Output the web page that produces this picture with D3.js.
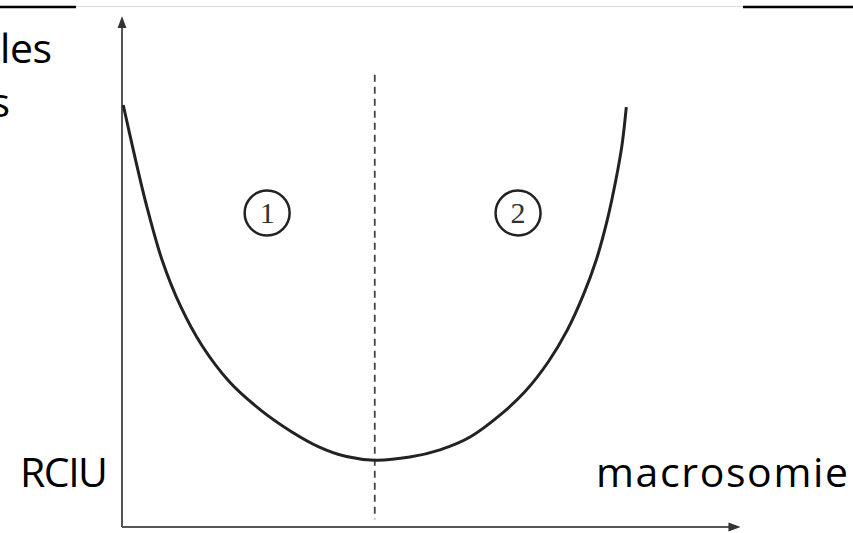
<!DOCTYPE html>
<html>
<head>
<style>
    body { margin: 0; background: #fff; }
    .label { font-family: "Open Sans", sans-serif; font-size: 41px; fill: #000; }
    .num { font-family: "Liberation Serif", serif; font-size: 30px; fill: #333; }
</style>
<script src="https://d3js.org/d3.v7.min.js"></script>
</head>
<body>

<svg width="853" height="533"></svg>

<script>
    // U-shaped curve (x and y in 0-100 units)
    var curveX = [0.2, 2.0, 4.0, 6.5, 9.5, 13.0, 17.5, 22.5, 27.5, 32.0, 36.5, 41.1,
                  46.8, 51.7, 56.6, 61.5, 65.5, 69.3, 72.4, 75.0, 77.1, 78.9, 80.3, 81.3, 82.0];
    var curveY = [82.1, 72.5, 62.5, 52.0, 43.0, 35.3, 28.2, 22.8, 18.6, 15.6, 13.7, 13.0,
                  13.6, 15.0, 17.5, 21.8, 26.3, 32.1, 38.3, 45.1, 51.9, 59.7, 67.5, 74.3, 81.7];
    var splitX = 41.1;
    var zones = ["1", "2"];
    var zoneX = [23.6, 64.4];
    var zoneY = 61.1;

    var svg = d3.select('svg');

    var xScale = d3.scaleLinear().domain([0, 100]).range([122, 737]);
    var yScale = d3.scaleLinear().domain([0, 100]).range([527, 13]);

    // top border fragments of the slide
    svg.append('line').attr('x1', 0).attr('x2', 76).attr('y1', 7).attr('y2', 7)
        .attr('stroke', '#000').attr('stroke-width', 2.5);
    svg.append('line').attr('x1', 76).attr('x2', 743).attr('y1', 6.5).attr('y2', 6.5)
        .attr('stroke', '#ddd').attr('stroke-width', 1);
    svg.append('line').attr('x1', 743).attr('x2', 853).attr('y1', 7).attr('y2', 7)
        .attr('stroke', '#000').attr('stroke-width', 2.5);

    // arrow head
    svg.append('defs').append('marker')
        .attr('id', 'arrow')
        .attr('viewBox', '0 0 10 10')
        .attr('refX', 2).attr('refY', 5)
        .attr('markerWidth', 6).attr('markerHeight', 6)
        .attr('markerUnits', 'strokeWidth')
        .attr('orient', 'auto')
        .append('path').attr('d', 'M0,1.2 L10,5 L0,8.8 Z').attr('fill', '#333');

    // axes (no ticks)
    var xAxis = d3.axisBottom(xScale).tickValues([]).tickSizeOuter(0);
    var yAxis = d3.axisLeft(yScale).tickValues([]).tickSizeOuter(0);

    svg.append('g').attr('class', 'x-axis')
        .attr('transform', 'translate(0,' + yScale(0) + ')')
        .call(xAxis);
    svg.append('g').attr('class', 'y-axis')
        .attr('transform', 'translate(' + xScale(0) + ',0)')
        .call(yAxis);

    svg.selectAll('.domain')
        .attr('stroke', '#555')
        .attr('stroke-width', 2)
        .attr('marker-end', 'url(#arrow)');
    svg.select('.x-axis .domain')
        .attr('d', 'M' + xScale(0) + ',0H' + xScale(99));
    // y axis path goes bottom -> top so the arrow sits on top
    svg.select('.y-axis .domain')
        .attr('d', 'M0,' + yScale(0) + 'V' + yScale(97.5));

    // dashed separator
    svg.append('line')
        .attr('x1', xScale(splitX)).attr('x2', xScale(splitX))
        .attr('y1', yScale(88)).attr('y2', yScale(1.5))
        .attr('stroke', '#444')
        .attr('stroke-width', 1.8)
        .attr('stroke-dasharray', '7,5');

    // curve
    var line = d3.line()
        .x(function (d, i) { return xScale(curveX[i]); })
        .y(function (d) { return yScale(d); })
        .curve(d3.curveCatmullRom.alpha(0.5));

    svg.append('path')
        .datum(curveY)
        .attr('d', line)
        .attr('fill', 'none')
        .attr('stroke', '#222')
        .attr('stroke-width', 3);

    // circled zone numbers
    var zoneG = svg.selectAll('.zone')
        .data(zones)
        .enter()
        .append('g')
        .attr('class', 'zone')
        .attr('transform', function (d, i) {
            return 'translate(' + xScale(zoneX[i]) + ',' + yScale(zoneY) + ')';
        });
    zoneG.append('circle')
        .attr('r', 22.5)
        .attr('fill', 'none')
        .attr('stroke', '#222')
        .attr('stroke-width', 2.5);
    zoneG.append('text')
        .attr('class', 'num')
        .attr('text-anchor', 'middle')
        .attr('dy', '0.34em')
        .text(function (d) { return d; });

    // slide text
    svg.append('text').attr('class', 'label').attr('x', 0).attr('y', 63)
        .attr('textLength', 52).text('les');
    svg.append('text').attr('class', 'label').attr('x', 10).attr('y', 117)
        .attr('text-anchor', 'end').text('s');
    svg.append('text').attr('class', 'label').attr('x', 20).attr('y', 487)
        .attr('textLength', 88).text('RCIU');
    svg.append('text').attr('class', 'label').attr('x', 596).attr('y', 487)
        .attr('textLength', 252).text('macrosomie');
</script>
</body>
</html>
